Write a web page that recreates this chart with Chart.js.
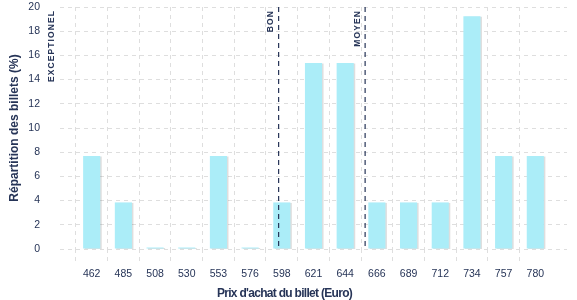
<!DOCTYPE html>
<html>
<head>
<meta charset="utf-8">
<script src="https://cdn.jsdelivr.net/npm/chart.js@4/dist/chart.umd.min.js"></script>
<style>
  html,body{margin:0;padding:0;background:#fff}
  #wrap{width:577px;height:300px;position:relative}
</style>
</head>
<body>
<div id="wrap"><canvas id="c"></canvas></div>
<script>
// prix d'achat (categories) et répartition en %
const prixLabels = ['462','485','508','530','553','576','598','621','644','666','689','712','734','757','780'];
const repartition = [7.69, 3.85, 0, 0, 7.69, 0, 3.85, 15.38, 15.38, 3.85, 3.85, 3.85, 19.23, 7.69, 7.69];
// seuils de prix (Euro)
const seuilNoms = ['EXCEPTIONEL', 'BON', 'MOYEN'];
const seuilPrix = [439, 596, 658];
const yTicks = [0, 2, 4, 6, 8, 10, 12, 14, 16, 18, 20];

const navy = '#263457';
const gridCol = '#dedede';
const font = '"Liberation Sans", Arial, sans-serif';

// one empty slot on each side of the axis
const labels = [''].concat(prixLabels, ['']);
const values = [null].concat(repartition, [null]);

// price -> position on the category axis
const pas = (Number(prixLabels[prixLabels.length-1]) - Number(prixLabels[0])) / (prixLabels.length - 1);
function prixToIdx(p){ return 1 + (p - Number(prixLabels[0])) / pas }

const barShadow = {
  id: 'barShadow',
  beforeDatasetsDraw(chart){
    const ctx = chart.ctx;
    ctx.save();
    ctx.shadowColor = 'rgba(0,0,0,0.13)';
    ctx.shadowOffsetX = 1.5;
    ctx.shadowOffsetY = 0.5;
    ctx.shadowBlur = 0;
  },
  afterDatasetsDraw(chart){ chart.ctx.restore() }
};

const seuils = {
  id: 'seuils',
  afterDatasetsDraw(chart){
    const ctx = chart.ctx, xs = chart.scales.x, a = chart.chartArea;
    seuilNoms.forEach((nom, i)=>{
      const x = xs.getPixelForValue(prixToIdx(seuilPrix[i]));
      ctx.save();
      if(x >= a.left){
        ctx.strokeStyle = navy; ctx.lineWidth = 1.2; ctx.setLineDash([5, 4]);
        ctx.beginPath(); ctx.moveTo(x, a.top); ctx.lineTo(x, a.bottom); ctx.stroke();
      }
      ctx.setLineDash([]);
      ctx.translate(x - 7.5, a.top + 3);
      ctx.rotate(-Math.PI/2);
      ctx.font = 'bold 8.5px ' + font;
      ctx.letterSpacing = '1.1px';
      ctx.fillStyle = navy;
      ctx.textAlign = 'right'; ctx.textBaseline = 'middle';
      ctx.fillText(nom, 0, 0);
      ctx.restore();
    });
  }
};

const xTitle = {
  id: 'xTitle',
  afterDraw(chart){
    const ctx = chart.ctx;
    ctx.save();
    ctx.font = 'bold 12px ' + font;
    ctx.letterSpacing = '-0.7px';
    ctx.fillStyle = navy;
    ctx.textAlign = 'center'; ctx.textBaseline = 'middle';
    ctx.fillText("Prix d'achat du billet (Euro)", chart.width/2 - 4, 294);
    ctx.restore();
  }
};

new Chart(document.getElementById('c'), {
  type: 'bar',
  data: {
    labels: labels,
    datasets: [{
      data: values,
      backgroundColor: '#abedf8',
      borderWidth: 0,
      barPercentage: 0.54,
      categoryPercentage: 1,
      minBarLength: 1.5
    }]
  },
  options: {
    responsive: true,
    maintainAspectRatio: false,
    animation: false,
    layout: { padding: { top: 0, right: 10, left: 0, bottom: 0 } },
    plugins: { legend: { display: false }, tooltip: { enabled: false } },
    scales: {
      x: {
        offset: false,
        grid: {
          color: c => (c.index === 0 || c.index === labels.length - 1) ? 'rgba(0,0,0,0)' : gridCol,
          borderDash: [4, 4],
          tickBorderDash: [4, 4],
          tickLength: 14,
          drawTicks: true
        },
        border: { display: false, dash: [4, 4] },
        ticks: { color: navy, font: { family: font, size: 10.5 }, padding: 5, maxRotation: 0, autoSkip: false },
        afterFit(s){ s.height = 51 }
      },
      y: {
        min: 0, max: 20,
        afterBuildTicks(s){ s.ticks = yTicks.map(v => ({ value: v })) },
        grid: { color: gridCol, drawTicks: false },
        border: { display: false, dash: [4, 4] },
        ticks: { color: navy, font: { family: font, size: 10.5 }, padding: 20 },
        title: { display: true, text: 'Répartition des billets (%)', color: navy, font: { family: font, size: 12, weight: 'bold' }, padding: { top: 7, bottom: 0 } },
        afterFit(s){ s.width = 60; s.paddingTop = 7; s.paddingBottom = 6 }
      }
    }
  },
  plugins: [barShadow, seuils, xTitle]
});
</script>
</body>
</html>
